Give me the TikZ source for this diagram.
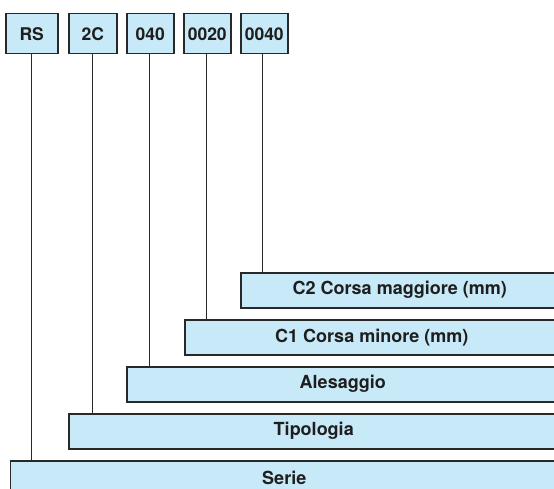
\documentclass[tikz,border=0pt]{standalone}
\usepackage{fontspec}
\setmainfont{TeX Gyre Heros}
\definecolor{boxfill}{RGB}{200,233,248}
\definecolor{boxline}{RGB}{40,40,40}
\definecolor{txt}{RGB}{30,30,30}
\tikzset{
  codebox/.style={draw=boxline, line width=1.5pt, fill=boxfill, anchor=north west,
    inner sep=0pt, minimum height=40pt, text=txt, font=\fontsize{17.5}{17.5}\selectfont\bfseries},
  fieldbox/.style={draw=boxline, line width=1.5pt, fill=boxfill, anchor=north west,
    inner sep=0pt, minimum height=35pt, text=txt, font=\fontsize{18}{18}\selectfont\bfseries},
  leader/.style={draw=boxline, line width=1.2pt}
}
\begin{document}
\begin{tikzpicture}[x=1pt,y=-1pt]
\path[use as bounding box] (0,0) rectangle (554,489);
\clip (0,0) rectangle (554,489);
% top code boxes
\node[codebox, minimum width=52pt] (rs)    at (5,13)   {RS};
\node[codebox, minimum width=48pt] (tc)    at (68,13)  {2C};
\node[codebox, minimum width=47pt] (al)    at (126,13) {040};
\node[codebox, minimum width=47pt] (cmin)  at (183,13) {0020};
\node[codebox, minimum width=47pt] (cmax)  at (240,13) {0040};
% field boxes
\node[fieldbox, minimum width=318pt] (c2)    at (240,272) {C2 Corsa maggiore (mm)};
\node[fieldbox, minimum width=374pt] (c1)    at (184,319) {C1 Corsa minore (mm)};
\node[fieldbox, minimum width=432pt] (ales)  at (126,366) {Alesaggio};
\node[fieldbox, minimum width=490pt] (tipo)  at (68,413)  {Tipologia};
\node[fieldbox, minimum width=548pt] (serie) at (9.5,460) {Serie};
% leaders
\draw[leader] (rs.south)   -- (rs.south |- serie.north);
\draw[leader] (tc.south)   -- (tc.south |- tipo.north);
\draw[leader] ([xshift=-0.5pt]al.south)   -- ([xshift=-0.5pt]al.south |- ales.north);
\draw[leader] ([xshift=-0.5pt]cmin.south) -- ([xshift=-0.5pt]cmin.south |- c1.north);
\draw[leader] ([xshift=-1.5pt]cmax.south) -- ([xshift=-1.5pt]cmax.south |- c2.north);
\end{tikzpicture}
\end{document}
